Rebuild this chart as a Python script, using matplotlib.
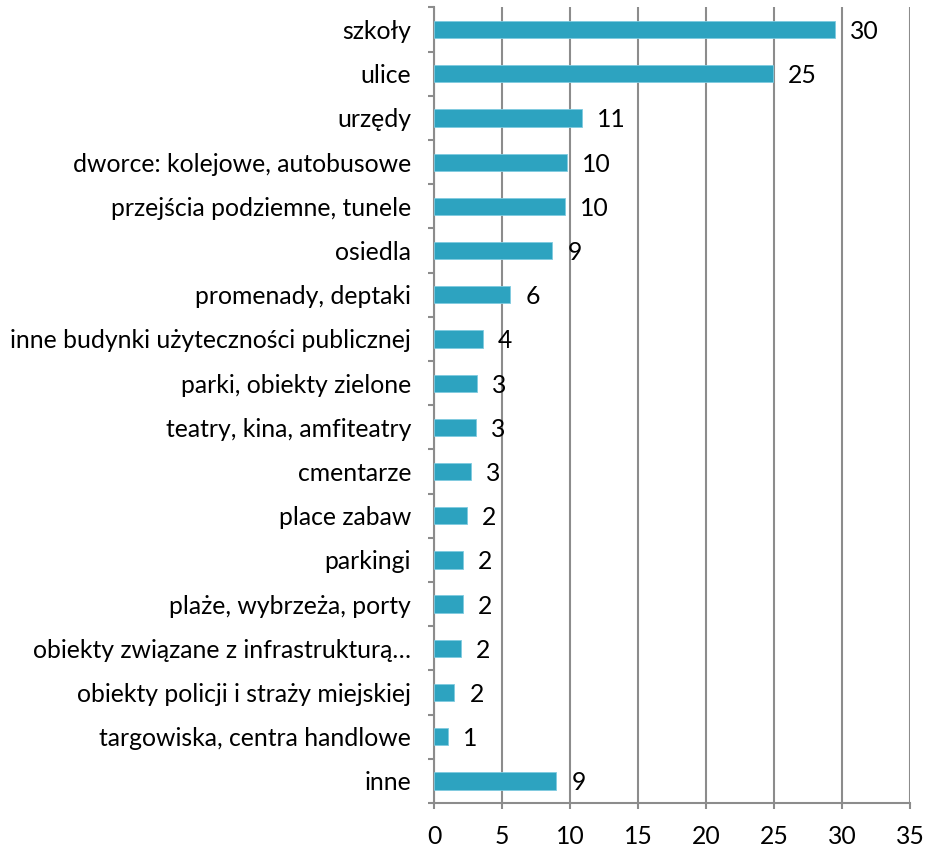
import matplotlib
import numpy as np

matplotlib.use("Agg")
import matplotlib.pyplot as plt  # noqa: E402
from matplotlib.ticker import FixedLocator  # noqa: E402

# kategorie od góry do dołu
kategorie = [
    "szkoły",
    "ulice",
    "urzędy",
    "dworce: kolejowe, autobusowe",
    "przejścia podziemne, tunele",
    "osiedla",
    "promenady, deptaki",
    "inne budynki użyteczności publicznej",
    "parki, obiekty zielone",
    "teatry, kina, amfiteatry",
    "cmentarze",
    "place zabaw",
    "parkingi",
    "plaże, wybrzeża, porty",
    "obiekty związane z infrastrukturą…",
    "obiekty policji i straży miejskiej",
    "targowiska, centra handlowe",
    "inne",
]
# długości słupków i etykiety (zaokrąglone)
wartosci = [29.5, 24.9, 10.9, 9.8, 9.6, 8.7, 5.6, 3.6, 3.15, 3.1, 2.7, 2.4,
            2.1, 2.1, 2.0, 1.5, 1.0, 9.0]
etykiety = ["30", "25", "11", "10", "10", "9", "6", "4", "3", "3", "3", "2",
            "2", "2", "2", "2", "1", "9"]
x_ticks = [0, 5, 10, 15, 20, 25, 30, 35]

KOLOR = "#2da3c0"
SZARY = "#8c8c8c"
FS = 17.8

plt.rcParams["font.family"] = ["Lato", "DejaVu Sans"]

fig = plt.figure(figsize=(9.32, 8.5), dpi=100)
ax = fig.add_axes([0.4657, 0.0553, 0.9764 - 0.4657, 0.9912 - 0.0553])

n = len(kategorie)
y = np.arange(n)
ax.barh(y, wartosci, height=0.39, color=KOLOR, edgecolor="#7fcbe0", linewidth=0.6, zorder=3)

for yi, v, lab in zip(y, wartosci, etykiety):
    ax.annotate(lab, (v, yi), xytext=(15, -2), textcoords="offset pixels",
                ha="left", va="center", fontsize=FS, color="black", zorder=4)

ax.set_xlim(0, 35)
ax.set_ylim(n - 0.5, -0.5)
ax.set_xticks(x_ticks)
ax.set_yticks(y, kategorie)
ax.yaxis.set_minor_locator(FixedLocator(np.arange(-0.5, n, 1.0)))

ax.grid(axis="x", color=SZARY, linewidth=1.5, zorder=0)
for s in ["top", "right"]:
    ax.spines[s].set_visible(False)
for s in ["left", "bottom"]:
    ax.spines[s].set_color(SZARY)
    ax.spines[s].set_linewidth(1.5)

ax.tick_params(axis="y", which="major", length=0, pad=16.5, labelsize=FS)
ax.tick_params(axis="y", which="minor", length=4, width=1.5, color=SZARY)
ax.tick_params(axis="x", which="major", length=4, width=1.5, color=SZARY,
               pad=11.5, labelsize=FS)

fig.savefig("out.png", dpi=100)
